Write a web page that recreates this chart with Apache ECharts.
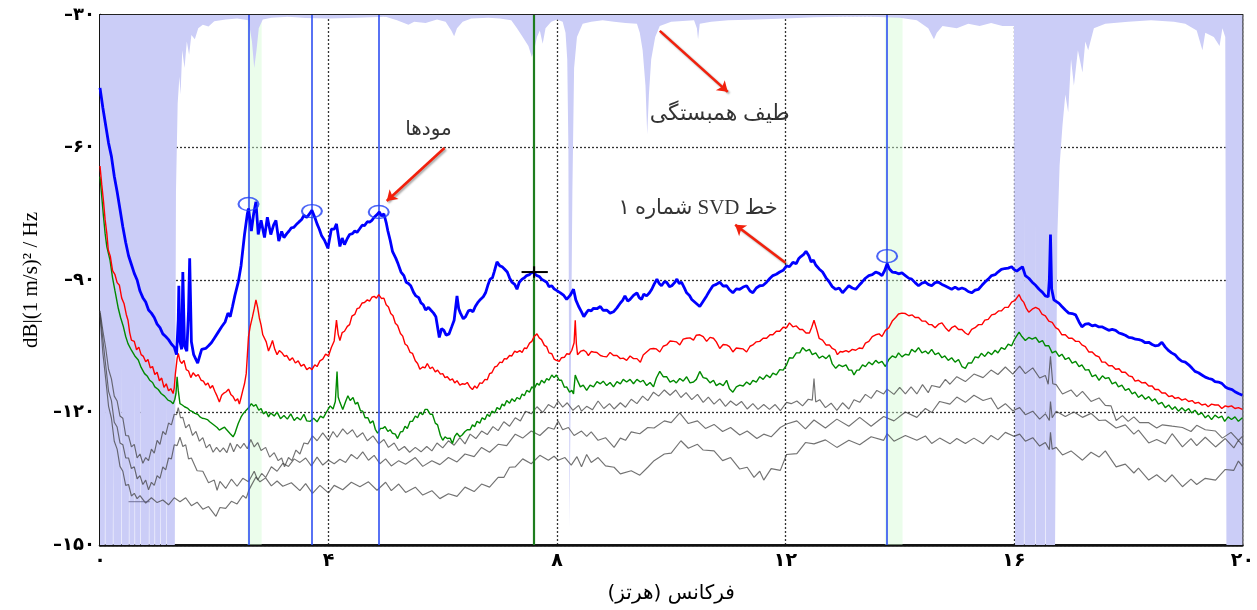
<!DOCTYPE html>
<html>
<head>
<meta charset="utf-8">
<script src="https://cdn.jsdelivr.net/npm/echarts@6/dist/echarts.min.js"></script>
<style>
  html, body { margin: 0; padding: 0; background: #fff; }
  #chart { width: 1257px; height: 610px; }
</style>
</head>
<body>
<div id="chart"></div>
<script>
// Frequency domain decomposition: singular value lines of the spectral matrix (dB), coherence spectrum and picked modes.

const xTicks = [0, 4, 8, 12, 16, 20];
const yTicks = [-150, -120, -90, -60, -30];

// SVD line 1 [Hz, dB]
const svd1 = [[0,-46.5],[0.05,-51],[0.1,-55],[0.15,-59],[0.2,-62],[0.25,-66.5],[0.3,-70],[0.35,-74],[0.4,-78],[0.45,-81.5],[0.5,-84.5],[0.55,-86.5],[0.6,-88.5],[0.65,-90],[0.7,-92.5],[0.75,-94],[0.8,-95],[0.85,-96.8],[0.9,-97.5],[0.95,-98.5],[1.0,-100],[1.05,-100.8],[1.1,-102.2],[1.15,-102.8],[1.2,-103.5],[1.25,-104.5],[1.3,-105.2],[1.34,-106.9],[1.37,-99],[1.38,-91.3],[1.4,-104],[1.43,-105.7],[1.45,-88.2],[1.48,-105],[1.52,-106.1],[1.55,-97],[1.57,-85.1],[1.6,-104],[1.64,-106.9],[1.71,-108.8],[1.75,-107],[1.78,-105.7],[1.85,-105.5],[1.9,-104.9],[1.95,-104.2],[2.01,-103],[2.07,-101.8],[2.13,-100.6],[2.19,-99.5],[2.24,-97.5],[2.28,-98.3],[2.32,-96],[2.36,-93.6],[2.42,-90.5],[2.47,-86.7],[2.53,-79.7],[2.58,-75],[2.6,-73.8],[2.65,-78.9],[2.69,-75],[2.73,-72.3],[2.77,-79.7],[2.82,-76.5],[2.88,-80.4],[2.93,-75.8],[2.99,-79.7],[3.04,-77.5],[3.08,-76.5],[3.13,-81.2],[3.18,-79],[3.22,-80.4],[3.27,-79.5],[3.31,-78.9],[3.35,-78.2],[3.39,-78.1],[3.44,-77.4],[3.48,-76.9],[3.53,-76.3],[3.57,-75.4],[3.62,-75.8],[3.67,-75],[3.71,-74.2],[3.76,-75.8],[3.8,-77.3],[3.84,-78.5],[3.88,-80],[3.93,-81],[3.99,-82.8],[4.05,-78.5],[4.1,-78.5],[4.14,-77.3],[4.2,-82.4],[4.24,-80.5],[4.28,-82],[4.33,-80.6],[4.37,-79.7],[4.42,-79.5],[4.46,-78.9],[4.5,-79.2],[4.54,-78.5],[4.59,-77.6],[4.63,-77.7],[4.68,-76.8],[4.72,-76.9],[4.76,-76.5],[4.8,-75.8],[4.85,-75.2],[4.89,-74.6],[4.93,-75.5],[4.97,-75],[5.01,-77],[5.04,-78.9],[5.08,-81],[5.12,-83.5],[5.18,-85.1],[5.22,-86.4],[5.27,-88.2],[5.32,-89],[5.36,-90.5],[5.4,-90.8],[5.44,-91.3],[5.49,-92.8],[5.53,-93.6],[5.58,-94],[5.62,-95.2],[5.66,-95.6],[5.7,-96.8],[5.75,-96.2],[5.79,-96.8],[5.84,-97.5],[5.88,-98.3],[5.94,-103],[5.98,-101],[6.02,-101.4],[6.06,-102.5],[6.11,-102.2],[6.16,-100.5],[6.2,-99.1],[6.25,-93.6],[6.28,-96.5],[6.31,-97.5],[6.36,-98.8],[6.4,-98.3],[6.45,-97],[6.49,-96.8],[6.53,-97.2],[6.57,-96],[6.62,-95],[6.66,-94.4],[6.71,-93.8],[6.75,-92.9],[6.79,-91.2],[6.83,-89.8],[6.87,-89.5],[6.9,-88.2],[6.95,-85.9],[7.0,-86.8],[7.04,-87],[7.08,-87.5],[7.13,-88.2],[7.17,-89.5],[7.21,-90.5],[7.26,-91],[7.3,-92.1],[7.34,-90.5],[7.39,-89.8],[7.43,-89.5],[7.47,-89],[7.52,-88.8],[7.56,-88.2],[7.6,-88.5],[7.65,-89],[7.69,-89.2],[7.73,-89.8],[7.78,-90.2],[7.82,-90.5],[7.86,-91.5],[7.91,-91.3],[7.95,-92],[8.0,-92.4],[8.06,-92.9],[8.12,-93.5],[8.17,-94.4],[8.23,-93.5],[8.29,-92.1],[8.33,-94.5],[8.38,-96],[8.43,-97.2],[8.47,-98.3],[8.51,-97.5],[8.55,-96.8],[8.6,-97],[8.64,-96.4],[8.7,-96.5],[8.76,-96],[8.81,-96.9],[8.87,-96.8],[8.93,-97.5],[8.99,-97.2],[9.05,-96.3],[9.11,-95.2],[9.15,-94.6],[9.19,-93.6],[9.24,-94.8],[9.28,-94.4],[9.34,-93.5],[9.4,-92.9],[9.44,-94],[9.48,-94.4],[9.52,-93.2],[9.57,-93.6],[9.62,-92.9],[9.66,-92.1],[9.7,-91],[9.75,-89.8],[9.79,-90.8],[9.83,-91.3],[9.88,-90.4],[9.92,-90.5],[9.97,-91.5],[10.01,-91.3],[10.06,-90.6],[10.1,-89.8],[10.14,-90.8],[10.18,-90.5],[10.23,-91.8],[10.27,-92.9],[10.32,-93.5],[10.36,-94.4],[10.43,-95.2],[10.5,-96],[10.56,-94.8],[10.62,-93.6],[10.67,-92.5],[10.73,-91.3],[10.79,-91],[10.85,-90.5],[10.91,-91.4],[10.97,-91.3],[11.02,-92.2],[11.08,-92.9],[11.14,-92],[11.2,-92.1],[11.26,-91.6],[11.32,-91.3],[11.38,-92.5],[11.43,-92.9],[11.49,-91.8],[11.55,-91.3],[11.61,-91.2],[11.67,-90.5],[11.73,-89.6],[11.78,-89],[11.84,-88.7],[11.9,-88.2],[11.96,-87.8],[12.02,-86.8],[12.07,-87],[12.13,-86],[12.19,-86.3],[12.23,-85.2],[12.27,-84.7],[12.32,-84.2],[12.36,-83.5],[12.41,-84.5],[12.45,-85.9],[12.49,-85.5],[12.53,-86.6],[12.59,-87.5],[12.65,-88.2],[12.71,-89.5],[12.77,-90.5],[12.82,-91.5],[12.88,-92.1],[12.94,-91.8],[13.0,-92.9],[13.06,-92],[13.11,-91.3],[13.17,-91.8],[13.23,-92.1],[13.29,-91.2],[13.34,-90.5],[13.4,-89.6],[13.46,-89],[13.52,-88.8],[13.58,-88.2],[13.64,-88.5],[13.69,-89],[13.74,-87.8],[13.78,-86.3],[13.82,-87.5],[13.87,-88.2],[13.93,-88.3],[13.98,-88.6],[14.04,-88.4],[14.1,-89],[14.16,-89.6],[14.21,-89.8],[14.27,-90.6],[14.33,-91.3],[14.39,-90.7],[14.45,-90.5],[14.5,-91],[14.56,-91.3],[14.62,-90.6],[14.68,-90.5],[14.74,-91],[14.79,-91.3],[14.85,-91.7],[14.91,-92.1],[14.97,-91.6],[15.03,-92.1],[15.09,-91.8],[15.15,-92.1],[15.2,-92.6],[15.26,-92.9],[15.32,-92.3],[15.38,-92.1],[15.44,-91.2],[15.49,-90.5],[15.55,-89.8],[15.61,-89],[15.67,-88.8],[15.72,-88.2],[15.78,-87.6],[15.84,-87.4],[15.9,-87.3],[15.96,-87],[16.0,-87.6],[16.05,-88],[16.1,-87.5],[16.15,-87],[16.2,-89],[16.26,-89.6],[16.32,-90.5],[16.38,-91.2],[16.44,-92.1],[16.5,-92.8],[16.55,-93.6],[16.6,-93.8],[16.62,-90],[16.64,-79.7],[16.66,-92],[16.7,-94.5],[16.73,-94.8],[16.79,-95.3],[16.84,-96],[16.9,-96.8],[16.96,-97.5],[17.02,-97.6],[17.08,-97.9],[17.14,-99.5],[17.19,-100.6],[17.25,-100],[17.31,-99.9],[17.37,-100.4],[17.42,-100.2],[17.48,-100.6],[17.54,-100.6],[17.6,-101],[17.66,-101.4],[17.72,-101.2],[17.78,-101.4],[17.84,-102],[17.89,-102.2],[17.95,-102.5],[18.01,-103],[18.07,-103.1],[18.13,-103.4],[18.19,-103.5],[18.24,-103.7],[18.3,-104.2],[18.36,-104.1],[18.42,-104.6],[18.47,-104.9],[18.53,-104.8],[18.59,-104.1],[18.65,-105.2],[18.71,-106],[18.76,-106.5],[18.82,-106.9],[18.88,-107.8],[18.94,-108.4],[19.0,-108.6],[19.06,-109.2],[19.12,-110],[19.17,-110.7],[19.23,-111],[19.29,-111.5],[19.35,-112],[19.41,-112.3],[19.47,-112.5],[19.52,-113],[19.58,-113.1],[19.64,-113.4],[19.7,-114.2],[19.76,-114.6],[19.82,-114.8],[19.87,-115.3],[19.93,-115.7],[20,-116.1]];

// SVD line 2
const svd2 = [[0,-64.2],[0.03,-68.3],[0.06,-72],[0.09,-76.4],[0.12,-79.5],[0.145,-83.2],[0.18,-84.6],[0.22,-87.9],[0.26,-88.7],[0.3,-90.6],[0.34,-91.2],[0.38,-94.1],[0.42,-95.3],[0.46,-97.8],[0.49,-99.1],[0.52,-101.9],[0.55,-103.6],[0.6,-103.9],[0.64,-105.8],[0.68,-105.2],[0.72,-106.9],[0.76,-107.3],[0.8,-108.5],[0.84,-108],[0.88,-109.9],[0.92,-109.6],[0.96,-111.4],[1.0,-110.9],[1.04,-112.8],[1.08,-112.2],[1.12,-114.3],[1.16,-113.5],[1.2,-115.1],[1.24,-114.6],[1.28,-115.7],[1.3,-114.4],[1.32,-111.2],[1.35,-107.8],[1.37,-106.6],[1.4,-108.3],[1.43,-108.9],[1.47,-108.2],[1.51,-110.3],[1.55,-110.6],[1.59,-112.1],[1.63,-111],[1.68,-111.8],[1.72,-111.4],[1.77,-112.7],[1.81,-112.9],[1.85,-113.8],[1.89,-113.3],[1.93,-114.5],[1.97,-113.9],[2.01,-115.2],[2.05,-116.3],[2.09,-117.6],[2.13,-116.1],[2.17,-115.6],[2.21,-115.3],[2.25,-114.7],[2.29,-115.9],[2.33,-116.4],[2.37,-117.4],[2.41,-116.9],[2.44,-118.1],[2.47,-116.6],[2.5,-115],[2.53,-113.5],[2.56,-111.2],[2.6,-102.8],[2.63,-100.5],[2.67,-98.3],[2.7,-96.5],[2.73,-94.5],[2.76,-96.2],[2.79,-98.6],[2.82,-100.2],[2.85,-102.4],[2.88,-102.8],[2.91,-104],[2.95,-106.1],[2.99,-104.8],[3.02,-103.7],[3.06,-105.7],[3.1,-106.9],[3.14,-106],[3.18,-106.4],[3.23,-107.3],[3.27,-107.1],[3.32,-108.2],[3.37,-107.6],[3.42,-108.8],[3.47,-108.3],[3.52,-109.5],[3.57,-109.1],[3.62,-110.3],[3.67,-109.8],[3.71,-110.3],[3.76,-109.2],[3.8,-109.6],[3.85,-108.3],[3.9,-107.9],[3.95,-106.8],[4.0,-107.2],[4.05,-105.3],[4.1,-103.8],[4.14,-99.1],[4.17,-102.3],[4.2,-103.7],[4.24,-101.9],[4.28,-101.6],[4.33,-100.5],[4.37,-100.1],[4.41,-98.2],[4.46,-97.8],[4.5,-96.5],[4.54,-96.3],[4.59,-95.2],[4.63,-95.1],[4.68,-94.5],[4.72,-94.8],[4.76,-93.9],[4.8,-93.7],[4.84,-94.1],[4.88,-93.3],[4.93,-94.2],[4.97,-94.1],[5.01,-95.6],[5.05,-96.1],[5.09,-97.6],[5.13,-98.1],[5.17,-99.8],[5.21,-100.3],[5.26,-102.1],[5.3,-102.7],[5.34,-104.5],[5.38,-104.9],[5.43,-106.4],[5.47,-106.6],[5.52,-108.3],[5.56,-108.9],[5.6,-110.2],[5.65,-109.7],[5.69,-109.9],[5.73,-108.9],[5.78,-110.1],[5.82,-109.7],[5.87,-110.8],[5.91,-110.4],[5.96,-111.3],[6.0,-111.2],[6.04,-112.1],[6.08,-111.9],[6.13,-112.7],[6.17,-112.4],[6.21,-113.3],[6.25,-112.8],[6.3,-113.8],[6.34,-113.5],[6.39,-113.6],[6.43,-113.2],[6.48,-114.3],[6.52,-114.8],[6.56,-114],[6.6,-114.5],[6.65,-113.3],[6.69,-113.4],[6.74,-112.5],[6.78,-112.6],[6.82,-111.2],[6.86,-111],[6.91,-109.7],[6.95,-109.5],[7.0,-108.6],[7.04,-108.7],[7.08,-107.8],[7.12,-107.9],[7.17,-107.1],[7.21,-107.2],[7.26,-106.1],[7.3,-106.4],[7.35,-106],[7.39,-106.4],[7.43,-105.4],[7.47,-105.5],[7.52,-104.3],[7.56,-103.9],[7.6,-102.8],[7.65,-102.2],[7.69,-103.1],[7.73,-103.5],[7.78,-104.8],[7.82,-105.1],[7.86,-106.5],[7.91,-106.7],[7.95,-107.9],[7.99,-108.2],[8.04,-108.4],[8.08,-107.6],[8.13,-107.5],[8.17,-106.7],[8.22,-106.8],[8.26,-105.9],[8.3,-104.2],[8.32,-99.1],[8.34,-104.5],[8.36,-106.9],[8.42,-106.1],[8.47,-105.9],[8.51,-106.3],[8.55,-107.1],[8.6,-106.2],[8.64,-106.3],[8.7,-106.4],[8.76,-107.1],[8.81,-107.3],[8.87,-107.4],[8.93,-106.4],[8.99,-107.1],[9.05,-107.1],[9.11,-107.8],[9.16,-107.7],[9.22,-108.2],[9.28,-107.2],[9.34,-107.8],[9.4,-107.8],[9.46,-108.6],[9.51,-107],[9.57,-106.3],[9.63,-105.6],[9.69,-105.5],[9.74,-105.6],[9.8,-106.3],[9.86,-105],[9.92,-104.7],[9.98,-103.8],[10.04,-103.9],[10.09,-104],[10.15,-104.7],[10.21,-103.4],[10.27,-103.2],[10.33,-103.1],[10.39,-103.6],[10.44,-102.5],[10.5,-102.4],[10.56,-102.8],[10.62,-103.9],[10.68,-103],[10.74,-103.2],[10.79,-104],[10.85,-105.5],[10.91,-104.6],[10.97,-104.7],[11.02,-105.1],[11.08,-106.3],[11.14,-105.4],[11.2,-105.5],[11.26,-105.6],[11.32,-106.3],[11.38,-105],[11.43,-104.7],[11.49,-104],[11.55,-103.9],[11.61,-103.2],[11.67,-103.2],[11.73,-102.4],[11.78,-102.4],[11.84,-101.6],[11.9,-101.6],[11.96,-100.7],[12.02,-100.8],[12.07,-99.7],[12.13,-100.6],[12.19,-100.4],[12.25,-101.2],[12.3,-101.2],[12.36,-102],[12.42,-102],[12.46,-100.7],[12.5,-99.1],[12.55,-101.3],[12.59,-103.2],[12.65,-103.6],[12.71,-104.7],[12.77,-104.7],[12.82,-105.5],[12.87,-105.8],[12.91,-106.9],[12.96,-106.2],[13.0,-106.3],[13.06,-106],[13.11,-106.3],[13.17,-105.7],[13.23,-105.9],[13.29,-105.4],[13.35,-105.5],[13.4,-104.3],[13.46,-103.9],[13.52,-102.8],[13.58,-102.4],[13.64,-102.2],[13.69,-102.8],[13.75,-101.4],[13.81,-100.8],[13.87,-99.3],[13.93,-98.5],[13.98,-97.7],[14.04,-97.5],[14.1,-97.6],[14.16,-98.1],[14.22,-97.9],[14.27,-98.5],[14.33,-98.5],[14.39,-99.3],[14.45,-99.3],[14.51,-100.1],[14.56,-100.1],[14.62,-100.8],[14.68,-100],[14.74,-99.7],[14.8,-100.8],[14.86,-101.6],[14.91,-100.8],[14.97,-100.4],[15.03,-101.2],[15.09,-101.2],[15.15,-102],[15.2,-102.4],[15.26,-101.2],[15.32,-100.8],[15.38,-100.1],[15.44,-100.1],[15.49,-99.1],[15.55,-98.9],[15.61,-97.9],[15.67,-97.7],[15.73,-97],[15.78,-97],[15.84,-96.2],[15.9,-96.2],[15.96,-95],[16.02,-94.6],[16.09,-93.3],[16.13,-94.4],[16.17,-95],[16.22,-96.5],[16.26,-97.3],[16.32,-96.6],[16.38,-96.2],[16.44,-96.6],[16.49,-97.7],[16.55,-98.1],[16.61,-99.3],[16.67,-99.6],[16.73,-100.8],[16.78,-101.2],[16.84,-102.4],[16.9,-102.4],[16.96,-103.2],[17.02,-103.2],[17.08,-103.9],[17.14,-103.9],[17.19,-104.7],[17.25,-105.1],[17.31,-106.3],[17.37,-106.3],[17.43,-107.1],[17.49,-107.4],[17.54,-108.6],[17.6,-108.6],[17.66,-109.4],[17.72,-109.4],[17.78,-110.2],[17.84,-110.1],[17.89,-110.9],[17.95,-110.9],[18.01,-111.7],[18.07,-111.9],[18.12,-112.9],[18.18,-112.7],[18.24,-113.3],[18.3,-113.2],[18.36,-114],[18.42,-114],[18.47,-114.8],[18.53,-114.8],[18.59,-115.6],[18.65,-115.6],[18.71,-116.4],[18.77,-116.2],[18.82,-116.8],[18.88,-116.6],[18.94,-117.2],[19.0,-116.9],[19.06,-117.5],[19.12,-117.3],[19.17,-117.9],[19.23,-117.7],[19.29,-118.3],[19.35,-118.1],[19.4,-118.7],[19.46,-118.1],[19.52,-118.3],[19.58,-118.3],[19.64,-119.1],[19.7,-118.5],[19.75,-118.7],[19.81,-118.5],[19.87,-119.1],[19.93,-118.9],[20,-119.3]];

// SVD line 3
const svd3 = [[0,-66.6],[0.03,-71],[0.06,-75.5],[0.09,-79.5],[0.12,-82.5],[0.175,-85.5],[0.22,-89.5],[0.26,-92.3],[0.32,-96.4],[0.36,-98.5],[0.41,-100.6],[0.45,-102.8],[0.49,-104.4],[0.55,-105.9],[0.61,-107.2],[0.67,-108.1],[0.72,-109.8],[0.78,-111.2],[0.83,-111.8],[0.87,-112.7],[0.92,-113.2],[0.96,-114.2],[1.02,-114.8],[1.07,-115.7],[1.13,-116.3],[1.19,-117.2],[1.24,-117.5],[1.28,-118],[1.31,-117],[1.33,-115.7],[1.35,-111.9],[1.37,-115],[1.4,-118],[1.44,-118.3],[1.48,-118.7],[1.53,-119],[1.57,-119.5],[1.62,-119.8],[1.66,-120.2],[1.71,-120.4],[1.75,-121],[1.79,-121.3],[1.83,-121.4],[1.88,-121.6],[1.92,-122.1],[1.96,-122.5],[2.0,-122.9],[2.05,-123.4],[2.09,-124],[2.14,-123.6],[2.18,-123.3],[2.21,-123.8],[2.24,-124],[2.28,-124.8],[2.33,-125.5],[2.36,-124.8],[2.38,-124],[2.42,-122.5],[2.47,-121],[2.51,-120.2],[2.56,-119.5],[2.61,-118.8],[2.65,-118],[2.69,-118.6],[2.73,-118.2],[2.78,-119.5],[2.82,-119.1],[2.86,-120.3],[2.91,-119.8],[2.95,-121],[2.99,-120.1],[3.05,-120.8],[3.1,-119.9],[3.16,-121.4],[3.22,-120.7],[3.28,-121.5],[3.34,-120.3],[3.4,-121.8],[3.45,-121.1],[3.51,-121.7],[3.57,-120.4],[3.62,-121.9],[3.68,-122],[3.74,-121.3],[3.8,-122.1],[3.86,-120.8],[3.91,-121.2],[3.96,-120],[4.03,-118.5],[4.08,-119.2],[4.12,-117.5],[4.15,-110.7],[4.17,-116.5],[4.2,-117.7],[4.25,-119.3],[4.3,-117.5],[4.34,-116.2],[4.38,-117.3],[4.43,-116.6],[4.47,-118.1],[4.51,-117.7],[4.56,-119.6],[4.6,-119.7],[4.64,-121.2],[4.69,-121.2],[4.73,-122.4],[4.78,-121.9],[4.82,-123.8],[4.86,-124.7],[4.91,-123.6],[4.95,-123.6],[4.99,-123.2],[5.04,-124.3],[5.08,-123.9],[5.12,-124.7],[5.17,-124.9],[5.21,-125.9],[5.26,-124.4],[5.3,-124.3],[5.34,-123.1],[5.38,-123.6],[5.43,-122],[5.47,-122],[5.52,-120.8],[5.56,-121.2],[5.6,-120],[5.65,-120.5],[5.69,-119.3],[5.73,-119.3],[5.78,-120.4],[5.82,-120.4],[5.87,-122.4],[5.91,-122.8],[5.96,-125.2],[6.0,-126.3],[6.04,-125.5],[6.08,-125.9],[6.13,-125.8],[6.17,-127],[6.21,-125.4],[6.25,-124.7],[6.3,-125.5],[6.34,-125.1],[6.39,-124.3],[6.43,-123.9],[6.48,-123.9],[6.52,-122.8],[6.56,-123.2],[6.6,-122],[6.65,-122.4],[6.69,-121.2],[6.74,-121.6],[6.78,-120.4],[6.82,-120.9],[6.86,-119.7],[6.91,-120.1],[6.95,-118.9],[7.0,-119.3],[7.04,-118.1],[7.08,-118.5],[7.12,-117.3],[7.17,-117.9],[7.21,-116.9],[7.26,-117.5],[7.3,-116.6],[7.35,-117],[7.39,-115.8],[7.43,-116.2],[7.47,-115],[7.52,-115.4],[7.56,-114.2],[7.6,-114.6],[7.65,-113.4],[7.69,-113.8],[7.73,-112.7],[7.78,-113.3],[7.82,-112.3],[7.86,-112.7],[7.91,-111.5],[7.95,-112.1],[7.99,-111.5],[8.04,-112.7],[8.08,-112.7],[8.13,-114.3],[8.17,-114.2],[8.22,-115.4],[8.26,-115],[8.29,-115.8],[8.32,-111.5],[8.35,-112.5],[8.41,-114.2],[8.46,-113.8],[8.52,-115],[8.58,-113.8],[8.64,-114.2],[8.7,-113],[8.76,-113.5],[8.81,-112.9],[8.87,-113.9],[8.93,-113.2],[8.99,-114.2],[9.05,-113],[9.11,-113.5],[9.16,-112.5],[9.22,-113.1],[9.28,-112.5],[9.34,-113.5],[9.4,-112.5],[9.46,-113.1],[9.51,-112.7],[9.57,-113.9],[9.63,-113.2],[9.69,-114.2],[9.74,-112.2],[9.8,-110.7],[9.86,-111.9],[9.92,-111.9],[9.98,-113.1],[10.04,-112.7],[10.09,-113.3],[10.15,-112.3],[10.21,-112.9],[10.27,-111.9],[10.33,-113.3],[10.39,-113.1],[10.44,-112.5],[10.5,-110.7],[10.56,-112.1],[10.62,-112.3],[10.68,-113.3],[10.74,-112.7],[10.79,-113.9],[10.85,-113.4],[10.91,-113.9],[10.97,-112.7],[11.02,-114.6],[11.08,-115.4],[11.14,-114.2],[11.2,-113.8],[11.26,-114],[11.32,-113.1],[11.38,-113.7],[11.43,-112.7],[11.49,-113.1],[11.55,-111.9],[11.61,-112.5],[11.67,-111.5],[11.73,-112.1],[11.78,-111.1],[11.84,-111.5],[11.9,-110.3],[11.96,-110.4],[12.02,-109.2],[12.07,-107.6],[12.13,-107.7],[12.19,-106.5],[12.25,-106.5],[12.3,-105.3],[12.36,-106.1],[12.42,-105.7],[12.47,-106.9],[12.53,-106.5],[12.59,-107.7],[12.65,-107.2],[12.71,-107.8],[12.77,-107],[12.82,-109],[12.88,-110],[12.94,-109.2],[13.0,-109.6],[13.06,-109.2],[13.11,-110.4],[13.16,-110.4],[13.2,-111.5],[13.25,-110.4],[13.29,-110.4],[13.35,-109.2],[13.4,-109.6],[13.46,-108.6],[13.52,-109.2],[13.58,-108.2],[13.63,-108.8],[13.69,-108.4],[13.75,-109.6],[13.81,-108],[13.87,-107.2],[13.93,-107.6],[13.98,-106.5],[14.04,-107.4],[14.1,-106.8],[14.16,-107],[14.21,-105.7],[14.27,-106.3],[14.33,-105.3],[14.39,-106.5],[14.45,-106.1],[14.5,-106.7],[14.56,-105.7],[14.62,-106.9],[14.68,-106.5],[14.74,-107.6],[14.79,-107.2],[14.85,-108.2],[14.91,-107.6],[14.97,-108.6],[15.03,-108],[15.09,-109.6],[15.15,-110],[15.2,-108.8],[15.26,-108.8],[15.32,-107.4],[15.38,-107.6],[15.43,-106.6],[15.49,-107.3],[15.55,-106.3],[15.61,-106.9],[15.67,-105.9],[15.72,-106.5],[15.78,-105.3],[15.84,-105.7],[15.9,-104.5],[15.96,-104.9],[16.0,-103.7],[16.04,-102.8],[16.09,-101.8],[16.14,-102.8],[16.2,-103.7],[16.26,-103],[16.32,-103.4],[16.38,-103],[16.44,-104.1],[16.5,-103.7],[16.55,-104.9],[16.61,-104.9],[16.67,-106.5],[16.73,-106.1],[16.79,-107.3],[16.84,-106.8],[16.9,-108],[16.96,-107.6],[17.02,-108.8],[17.08,-108.4],[17.14,-109.6],[17.19,-109.2],[17.25,-110.4],[17.31,-110.3],[17.37,-111.9],[17.43,-111.5],[17.49,-112.7],[17.55,-111.7],[17.6,-112.3],[17.66,-112.1],[17.72,-113.5],[17.78,-113.1],[17.83,-114.2],[17.89,-113.8],[17.95,-115],[18.01,-114.6],[18.07,-115.8],[18.12,-115.4],[18.18,-116.6],[18.24,-116],[18.3,-117],[18.36,-116.4],[18.42,-117.4],[18.47,-116.9],[18.53,-118.1],[18.59,-117.7],[18.65,-118.9],[18.71,-118.3],[18.77,-119.3],[18.82,-118.7],[18.88,-119.7],[18.94,-118.9],[19.0,-119.7],[19.06,-119.1],[19.11,-120.1],[19.17,-119.5],[19.23,-120.5],[19.29,-120.1],[19.35,-121.2],[19.4,-120.6],[19.46,-121.6],[19.52,-120.6],[19.58,-121.2],[19.64,-120.8],[19.69,-122],[19.75,-121],[19.81,-121.6],[19.87,-121],[19.93,-122],[20,-121.2]];

// SVD lines 4, 5, 6
const svd4 = [[0,-97],[0.05,-101.5],[0.1,-105.4],[0.15,-110.2],[0.2,-112.4],[0.25,-116.3],[0.3,-117.4],[0.35,-120.8],[0.4,-121.3],[0.45,-125.2],[0.5,-125.3],[0.55,-127.8],[0.6,-127.2],[0.65,-130.3],[0.7,-129.4],[0.75,-131.5],[0.8,-130.2],[0.85,-130.9],[0.9,-128.3],[0.95,-129.2],[1.0,-126.3],[1.05,-127.2],[1.1,-124.3],[1.15,-125],[1.2,-122.4],[1.25,-122.8],[1.3,-120.4],[1.34,-120.5],[1.37,-118.9],[1.41,-121.2],[1.45,-121.1],[1.5,-123.5],[1.56,-122.7],[1.62,-125.2],[1.68,-124.3],[1.74,-126.5],[1.8,-125.7],[1.86,-128],[1.92,-127.2],[1.98,-129],[2.04,-127.9],[2.1,-128.9],[2.16,-128],[2.22,-129.1],[2.28,-126.9],[2.34,-128.9],[2.4,-127.2],[2.46,-128.1],[2.52,-127],[2.58,-128.2],[2.64,-126.1],[2.7,-127.8],[2.76,-126.8],[2.82,-128.6],[2.9,-127.9],[2.97,-130.1],[3.05,-129.1],[3.12,-130.9],[3.18,-130.3],[3.23,-132.3],[3.3,-130.2],[3.36,-130.9],[3.43,-128.5],[3.5,-129.4],[3.57,-126.9],[3.64,-127.1],[3.72,-125.3],[3.8,-126.4],[3.9,-124.6],[4.0,-126.3],[4.08,-124.3],[4.15,-125.6],[4.25,-123.7],[4.33,-124.9],[4.42,-123.9],[4.5,-125.6],[4.6,-124.6],[4.68,-126.4],[4.78,-125.3],[4.88,-127.1],[4.97,-126.1],[5.05,-127.9],[5.15,-126.9],[5.23,-128.6],[5.33,-127.7],[5.42,-129],[5.52,-127.9],[5.62,-128.9],[5.72,-127.7],[5.81,-128.7],[5.9,-126.9],[6.0,-128],[6.1,-126.4],[6.2,-127.4],[6.3,-125.7],[6.39,-127.1],[6.48,-124.9],[6.58,-125.9],[6.68,-124.2],[6.78,-125],[6.88,-123.2],[6.97,-124.1],[7.07,-122.1],[7.17,-123.1],[7.27,-121.2],[7.36,-121.9],[7.45,-119.7],[7.55,-120.3],[7.65,-118.7],[7.75,-120],[7.85,-118.2],[7.95,-119],[8.02,-117.4],[8.1,-118.8],[8.18,-117.8],[8.28,-119.5],[8.38,-118.4],[8.43,-119.7],[8.52,-118.6],[8.62,-119.4],[8.72,-117.4],[8.82,-119.1],[8.92,-118],[9.0,-119.2],[9.11,-117.8],[9.2,-118.8],[9.3,-117],[9.4,-118],[9.5,-116.3],[9.59,-117.3],[9.69,-115.4],[9.78,-116.3],[9.88,-114.9],[9.98,-116.1],[10.08,-114.9],[10.17,-116.6],[10.26,-115.5],[10.36,-117.1],[10.46,-115.9],[10.56,-117.7],[10.65,-116.5],[10.75,-118.1],[10.85,-116.9],[10.95,-118.6],[11.04,-117.4],[11.14,-118.4],[11.23,-117.5],[11.33,-119.2],[11.43,-118],[11.52,-119.3],[11.62,-118.2],[11.72,-119.3],[11.82,-118.2],[11.91,-119.6],[12.02,-117.7],[12.1,-118],[12.2,-117.4],[12.3,-118.5],[12.4,-117],[12.47,-117.2],[12.5,-112.3],[12.53,-117.6],[12.6,-117.1],[12.7,-118.9],[12.8,-117.9],[12.9,-119.5],[13.0,-117.8],[13.11,-119.2],[13.2,-117.1],[13.3,-117.7],[13.4,-115.9],[13.5,-116.8],[13.6,-115],[13.72,-115.8],[13.78,-114.7],[13.9,-115.9],[14.0,-114.3],[14.1,-115.8],[14.2,-114.2],[14.3,-115.8],[14.4,-113.7],[14.5,-115.5],[14.56,-113.9],[14.7,-114.3],[14.8,-112.5],[14.88,-113.6],[15.0,-111.9],[15.15,-113],[15.3,-111.3],[15.46,-112.1],[15.6,-110.4],[15.72,-111.4],[15.85,-109.7],[15.98,-111.3],[16.1,-109.5],[16.2,-111.2],[16.33,-109.9],[16.45,-112.2],[16.55,-111.6],[16.6,-113.6],[16.64,-107.3],[16.68,-113.5],[16.74,-113.7],[16.85,-115.8],[17.0,-114.9],[17.1,-116.4],[17.2,-115.2],[17.35,-117.5],[17.49,-116.7],[17.6,-118.4],[17.7,-118.5],[17.79,-121.8],[17.9,-120.7],[18.0,-122],[18.1,-121],[18.2,-122.3],[18.36,-122.3],[18.5,-123.5],[18.6,-122.8],[18.77,-123.1],[18.95,-123.4],[19.1,-124.3],[19.2,-122.9],[19.35,-123.9],[19.53,-124.2],[19.65,-125.8],[19.8,-124.5],[19.93,-126.3],[20,-125.4]];

const svd5 = [[0,-97.5],[0.05,-103.4],[0.1,-109.3],[0.15,-115.2],[0.2,-117.3],[0.25,-122.2],[0.3,-123.3],[0.35,-126.9],[0.4,-127.3],[0.45,-130.3],[0.5,-130.3],[0.55,-132.7],[0.6,-132.3],[0.65,-135],[0.7,-134.3],[0.75,-136.3],[0.8,-135.3],[0.85,-137.5],[0.9,-135.8],[0.95,-136.5],[1.0,-134.3],[1.05,-134.9],[1.1,-132.3],[1.15,-133],[1.2,-130.3],[1.25,-130.5],[1.3,-127.3],[1.35,-127.5],[1.4,-125.6],[1.45,-127.7],[1.5,-127.3],[1.55,-130.5],[1.6,-130.3],[1.7,-133.2],[1.8,-133.3],[1.9,-135.9],[2.0,-135.3],[2.05,-137.6],[2.1,-135.6],[2.2,-137.2],[2.3,-135.1],[2.4,-136.7],[2.5,-134.9],[2.6,-135.7],[2.7,-133.3],[2.76,-135.3],[2.83,-133.8],[2.9,-134.7],[3.0,-132.3],[3.1,-133.3],[3.2,-131.5],[3.3,-132.2],[3.4,-130.5],[3.5,-131.3],[3.6,-130.3],[3.7,-132.1],[3.8,-130.1],[3.9,-131.9],[4.0,-130.8],[4.1,-131.6],[4.2,-130.6],[4.3,-131.3],[4.4,-129.5],[4.5,-130.5],[4.6,-128.9],[4.7,-130.8],[4.8,-129.7],[4.9,-131.6],[5.0,-130.5],[5.1,-132.1],[5.23,-130.9],[5.35,-131.7],[5.52,-130.2],[5.65,-132.2],[5.81,-130.9],[5.95,-131.8],[6.1,-130.2],[6.25,-131.2],[6.39,-129.4],[6.55,-130],[6.68,-127.9],[6.82,-129],[6.97,-127.2],[7.12,-127.5],[7.27,-124.9],[7.4,-125.8],[7.55,-124.2],[7.7,-125.2],[7.85,-123.4],[7.95,-123.8],[8.02,-121.9],[8.1,-123.9],[8.2,-123.4],[8.3,-125.2],[8.43,-124.2],[8.52,-125.4],[8.6,-124.4],[8.72,-126.3],[8.85,-125.7],[9.0,-127.9],[9.11,-125.8],[9.2,-126.3],[9.3,-124.4],[9.45,-124.8],[9.59,-123.4],[9.7,-123.5],[9.88,-121.9],[10.0,-122.3],[10.15,-120.1],[10.3,-122.5],[10.46,-121.9],[10.6,-123.6],[10.75,-122.7],[10.9,-124.3],[11.04,-123.4],[11.2,-125.1],[11.33,-124.2],[11.5,-125.9],[11.62,-124.9],[11.75,-125.5],[11.91,-123.4],[12.02,-122.6],[12.2,-121.9],[12.35,-123.7],[12.5,-121.7],[12.7,-123.5],[12.9,-121.5],[13.11,-123.1],[13.3,-121.1],[13.5,-123.1],[13.72,-120.9],[13.9,-121.9],[14.1,-119.9],[14.3,-121.1],[14.45,-119.1],[14.56,-120],[14.7,-117.5],[14.88,-118.1],[15.0,-116.5],[15.15,-117.7],[15.3,-116.1],[15.46,-117.3],[15.6,-116.7],[15.72,-119.2],[15.85,-118],[15.98,-119.6],[16.1,-118.9],[16.2,-120.5],[16.33,-119.7],[16.45,-121.5],[16.55,-120.3],[16.62,-121.8],[16.64,-117.5],[16.67,-121.2],[16.74,-119.7],[16.9,-120.9],[17.05,-119.9],[17.2,-121.1],[17.35,-120.2],[17.49,-121.8],[17.6,-121.7],[17.79,-123.5],[17.95,-122.8],[18.1,-124.9],[18.18,-124],[18.36,-126.9],[18.5,-126.1],[18.65,-127.1],[18.77,-124.8],[18.95,-127.8],[19.1,-125.9],[19.2,-127.5],[19.35,-125.6],[19.53,-127.8],[19.7,-125.9],[19.85,-128],[19.93,-126.3],[20,-127.4]];

const svd6 = [[0,-98],[0.05,-106.5],[0.1,-112.4],[0.15,-118.6],[0.2,-121.3],[0.25,-126.5],[0.3,-128.3],[0.35,-132.2],[0.4,-133.3],[0.45,-136.5],[0.5,-136.3],[0.55,-138.9],[0.6,-138.3],[0.65,-139.5],[0.7,-138.8],[0.8,-140.5],[0.9,-139.3],[1.0,-140.4],[1.1,-139.8],[1.2,-140.9],[1.3,-139.3],[1.4,-140.2],[1.5,-139.3],[1.6,-141.1],[1.7,-140.3],[1.8,-141.9],[1.9,-141.3],[2.03,-143.5],[2.1,-141.5],[2.2,-141.7],[2.3,-140.1],[2.4,-140.7],[2.5,-138.8],[2.56,-139.4],[2.6,-137.8],[2.65,-136.5],[2.73,-134.6],[2.8,-135.7],[2.9,-134.8],[3.0,-136.6],[3.1,-135.5],[3.2,-136.7],[3.35,-135.9],[3.5,-137.7],[3.6,-136.1],[3.72,-138.3],[3.85,-136.5],[4.0,-138.2],[4.1,-136.5],[4.25,-137.5],[4.4,-135.8],[4.55,-136.8],[4.7,-135.7],[4.85,-137.6],[5.0,-135.8],[5.1,-137.7],[5.23,-136.2],[5.35,-138.1],[5.52,-136.9],[5.65,-138.7],[5.81,-137.7],[5.95,-139.5],[6.1,-138.4],[6.25,-139],[6.39,-136.9],[6.55,-137.9],[6.68,-136.2],[6.82,-136.9],[6.97,-134.7],[7.07,-134.7],[7.17,-132.4],[7.27,-132.3],[7.4,-130.5],[7.55,-131.6],[7.7,-129.7],[7.85,-130.8],[7.95,-129.9],[8.02,-130.8],[8.14,-130.2],[8.25,-131.9],[8.35,-130],[8.43,-132.3],[8.52,-129.5],[8.6,-131.3],[8.72,-130.2],[8.85,-132.1],[9.0,-132.4],[9.11,-133.9],[9.3,-133.2],[9.45,-134.2],[9.59,-132.4],[9.7,-130.9],[9.88,-129.4],[10.0,-129.2],[10.17,-126.4],[10.3,-128.1],[10.46,-127.2],[10.56,-128.5],[10.75,-128.7],[10.9,-130.9],[11.04,-130.2],[11.2,-132.8],[11.33,-132.4],[11.45,-134.7],[11.55,-133.3],[11.62,-135.3],[11.75,-132.7],[11.91,-133.1],[12.02,-129.5],[12.2,-129.3],[12.35,-126.8],[12.5,-127.1],[12.7,-126.2],[12.9,-127.9],[13.11,-126.3],[13.3,-127.3],[13.5,-125.5],[13.72,-126.3],[13.78,-124.8],[13.9,-126.5],[14.1,-125.2],[14.3,-126.3],[14.45,-125.3],[14.56,-127],[14.7,-125.8],[14.88,-127.1],[15.0,-125.9],[15.15,-127],[15.3,-125.8],[15.46,-127.1],[15.6,-125.2],[15.72,-126.2],[15.85,-124.5],[16.0,-125.4],[16.1,-124.9],[16.2,-126.5],[16.33,-125.7],[16.45,-127.6],[16.55,-126.8],[16.62,-128.4],[16.64,-124.5],[16.67,-128.3],[16.74,-127.9],[16.85,-129.6],[17.0,-128.7],[17.2,-130.8],[17.35,-129],[17.49,-130.1],[17.6,-128.7],[17.79,-132.3],[17.95,-131.7],[18.1,-133.7],[18.18,-132.6],[18.36,-135.3],[18.5,-134.1],[18.65,-135.7],[18.77,-134.1],[18.95,-136.8],[19.1,-135.1],[19.2,-136.3],[19.35,-134.9],[19.53,-135.3],[19.7,-132.9],[19.85,-133.1],[19.93,-131],[20,-132.2]];

// Coherence spectrum, drawn as a fill hanging from the top of the plot
const coherence = [[0,-150],[0.085,-150],[0.09,-118],[0.095,-150],[0.225,-150],[0.23,-128],[0.235,-150],[0.375,-150],[0.38,-108],[0.385,-150],[0.505,-150],[0.51,-122],[0.515,-150],[0.605,-150],[0.61,-112],[0.615,-150],[0.705,-150],[0.71,-104],[0.715,-150],[0.855,-150],[0.86,-128],[0.865,-150],[0.955,-150],[0.96,-110],[0.965,-150],[1.055,-150],[1.06,-125],[1.065,-150],[1.155,-150],[1.16,-116],[1.165,-150],[1.31,-150],[1.33,-70],[1.36,-50],[1.39,-44],[1.41,-48],[1.44,-38],[1.48,-42],[1.52,-36],[1.56,-39],[1.6,-34.5],[1.66,-35.5],[1.72,-33],[1.8,-32.2],[1.9,-32.6],[2.0,-31.4],[2.2,-31],[2.4,-30.8],[2.6,-31.2],[2.66,-36],[2.7,-42],[2.74,-38],[2.78,-33],[2.85,-31],[3.0,-30.6],[3.3,-30.4],[3.6,-30.7],[4.0,-30.8],[4.5,-30.6],[5.0,-30.4],[5.2,-31.2],[5.4,-32.2],[5.5,-31.5],[5.7,-31.8],[5.9,-31],[6.05,-31.5],[6.15,-33.5],[6.2,-34.8],[6.25,-33],[6.35,-31.5],[6.5,-30.8],[6.8,-30.6],[7.0,-30.8],[7.2,-31.2],[7.3,-33],[7.4,-35],[7.5,-37],[7.56,-39.5],[7.6,-38],[7.65,-35],[7.7,-33.5],[7.75,-36.5],[7.8,-33],[7.9,-31.5],[8.0,-31],[8.1,-31.5],[8.15,-34],[8.18,-40],[8.2,-60],[8.22,-146],[8.25,-146],[8.27,-70],[8.3,-42],[8.35,-35],[8.45,-32],[8.6,-31.5],[8.8,-31.2],[9.0,-31.5],[9.2,-31.8],[9.4,-32],[9.45,-34],[9.5,-38],[9.55,-46],[9.58,-57],[9.61,-48],[9.65,-40],[9.72,-35],[9.8,-32.5],[10.0,-31.5],[10.4,-31.2],[10.45,-33],[10.47,-35.5],[10.5,-32],[10.7,-31.5],[11.0,-31.2],[11.5,-31],[12.0,-30.8],[12.5,-30.5],[13.0,-30.4],[13.5,-30.4],[14.0,-30.6],[14.3,-31.2],[14.5,-33],[14.6,-35.5],[14.65,-34],[14.75,-32.5],[15.0,-33],[15.2,-32],[15.4,-32.5],[15.6,-31.8],[15.8,-32.5],[16.0,-32.5],[16.02,-150],[16.175,-150],[16.18,-72],[16.185,-150],[16.375,-150],[16.38,-75],[16.385,-150],[16.545,-150],[16.55,-78],[16.555,-150],[16.72,-150],[16.76,-80],[16.8,-64],[16.85,-55],[16.9,-48],[16.95,-52],[17.0,-40],[17.05,-46],[17.12,-38],[17.2,-43],[17.25,-36],[17.3,-38],[17.4,-33],[17.6,-32],[18.0,-31.5],[18.4,-31.2],[18.8,-31.5],[19.0,-32],[19.2,-33.5],[19.3,-38],[19.35,-34],[19.5,-35],[19.6,-37],[19.65,-33],[19.7,-35],[19.72,-150],[20,-150]];

// Picked modes (Hz) and their peak levels on line 1
const modeFreqs = [2.6, 3.71, 4.88, 13.78];
const modePeaks = [-72.8, -74.4, -74.6, -84.6];
const selectedFreq = 7.6;
const bandRanges = [[2.58, 2.83], [13.74, 14.05]];
const crossLevel = -88.2;
const crossSpan = [7.38, 7.84];
const cursorLine = [[0.5, -140.2], [0.87, -140.2]];

// Annotation texts and arrows [from, to]
const labels = [
  { text: 'طيف همبستگی', at: [10.85, -52.4], size: 22 },
  { text: 'مودها', at: [5.75, -56.0], size: 20 },
  { text: 'خط SVD شماره ۱', at: [10.47, -73.8], size: 21 }
];
const arrows = [
  [[9.8, -33.6], [10.99, -47.4]],
  [[6.03, -60.1], [5.02, -72.1]],
  [[12.0, -86.1], [11.12, -77.5]]
];

const faDigits = '۰۱۲۳۴۵۶۷۸۹';
const toFa = v => String(Math.abs(v)).replace(/\d/g, d => faDigits[+d]);
const rtl = s => '\u202B' + s + '\u202C';

const chart = echarts.init(document.getElementById('chart'), null, { renderer: 'canvas' });

const lineSeries = (name, data, color, width, z, opacity) => ({
  name, type: 'line', data, showSymbol: false, symbol: 'none', z,
  lineStyle: { color, width, opacity: opacity == null ? 1 : opacity },
  silent: true, animation: false
});

chart.setOption({
  animation: false,
  backgroundColor: '#ffffff',
  grid: { left: 100, right: 10, top: 15, bottom: 65, show: true, borderColor: '#222', borderWidth: 2, backgroundColor: 'transparent' },
  xAxis: {
    type: 'value', min: 0, max: 20, interval: 4,
    axisLine: { show: true, onZero: false, lineStyle: { color: '#111', width: 2.5 } },
    axisTick: { show: false },
    axisLabel: { formatter: v => toFa(v), fontSize: 19, fontWeight: 'bold', color: '#000', margin: 7, fontFamily: 'DejaVu Sans' },
    splitLine: { show: true, lineStyle: { type: [2, 2], color: '#333', width: 1.3 } },
    name: rtl('فرکانس (هرتز)'), nameLocation: 'middle', nameGap: 39,
    nameTextStyle: { fontSize: 20, color: '#000', fontFamily: 'DejaVu Sans' }
  },
  yAxis: {
    type: 'value', min: -150, max: -30, interval: 30,
    axisLine: { show: true, onZero: false, lineStyle: { color: '#111', width: 2.5 } },
    axisTick: { show: false },
    axisLabel: { formatter: v => (v < 0 ? '–' : '') + toFa(v), fontSize: 18, fontWeight: 'bold', color: '#000', margin: 5, fontFamily: 'DejaVu Sans' },
    splitLine: { show: true, lineStyle: { type: [2, 2], color: '#333', width: 1.3 } },
    name: 'dB|(1 m/s)² / Hz', nameLocation: 'middle', nameGap: 58, nameRotate: 90,
    nameTextStyle: { fontSize: 21, color: '#000', fontFamily: 'Liberation Serif' }
  },
  series: [
    {
      name: 'coherence', type: 'line', data: coherence, showSymbol: false, symbol: 'none', z: 1,
      lineStyle: { width: 0, opacity: 0 },
      areaStyle: { color: '#cbcdf7', origin: 'end', opacity: 1 },
      silent: true
    },
    {
      name: 'bands', type: 'line', data: [], z: 2, silent: true,
      markArea: {
        silent: true,
        itemStyle: { color: 'rgba(210,250,210,0.45)' },
        data: bandRanges.map(r => [{ xAxis: r[0] }, { xAxis: r[1] }])
      }
    },
    lineSeries('svd6', svd6, '#3c3c3c', 1.15, 3, 0.72),
    lineSeries('svd5', svd5, '#3c3c3c', 1.15, 3, 0.72),
    lineSeries('svd4', svd4, '#3c3c3c', 1.15, 3, 0.72),
    lineSeries('cursor', cursorLine, '#5a5a80', 1, 3, 0.8),
    lineSeries('svd3', svd3, '#008a00', 1.4, 4),
    lineSeries('svd2', svd2, '#ff0000', 1.4, 5),
    {
      name: 'modes', type: 'line', data: [], z: 6, silent: true,
      markLine: {
        silent: true, symbol: 'none', label: { show: false },
        lineStyle: { color: '#2f4ff2', width: 1.6, type: 'solid' },
        data: modeFreqs.map(f => ({ xAxis: f }))
          .concat([{ xAxis: selectedFreq, lineStyle: { color: '#1e7d1e', width: 2.2, type: 'solid' } }])
      }
    },
    lineSeries('svd1', svd1, '#0000ff', 2.8, 7),
    {
      name: 'peaks', type: 'scatter', z: 8, silent: true,
      data: modeFreqs.map((f, i) => [f, modePeaks[i]]),
      symbol: 'path://M0,10a10,10 0 1,0 20,0a10,10 0 1,0 -20,0z',
      symbolSize: [20, 13],
      itemStyle: { color: 'rgba(0,0,0,0)', borderColor: '#1f3ff5', borderWidth: 1.7 }
    },
    lineSeries('crossH', crossSpan.map(f => [f, crossLevel]), '#000', 2, 8),
    lineSeries('crossV', [[selectedFreq, crossLevel + 1.3], [selectedFreq, crossLevel - 1.3]], '#000', 2, 8),
    {
      name: 'arrows', type: 'line', data: [], z: 9, silent: true,
      markLine: {
        silent: true, symbol: ['none', 'arrow'], symbolSize: 10, label: { show: false },
        lineStyle: { color: '#f2200c', width: 2.6, type: 'solid', shadowColor: 'rgba(0,0,0,0.35)', shadowBlur: 2, shadowOffsetX: 1.5, shadowOffsetY: 1.5 },
        data: arrows.map(a => [{ coord: a[0] }, { coord: a[1] }])
      }
    },
    {
      name: 'labels', type: 'scatter', z: 10, silent: true, symbolSize: 1,
      itemStyle: { color: 'rgba(0,0,0,0)' },
      data: labels.map(l => ({
        value: l.at, name: rtl(l.text),
        label: { show: true, position: 'inside', formatter: '{b}', color: '#000', fontSize: l.size, fontFamily: 'Liberation Serif, DejaVu Sans' }
      }))
    }
  ]
});
</script>
</body>
</html>
